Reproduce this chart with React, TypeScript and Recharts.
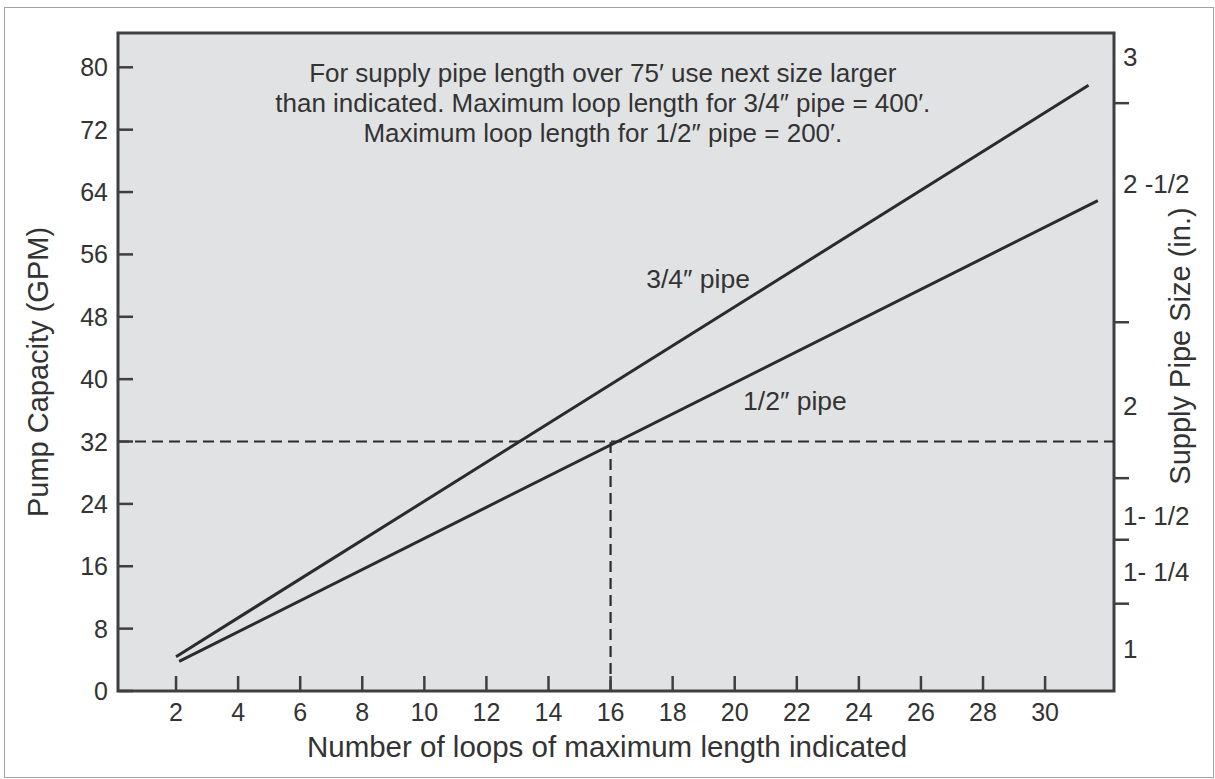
import React from 'react';
import {
  ComposedChart,
  Line,
  XAxis,
  YAxis,
  ReferenceLine,
  ReferenceArea,
  ReferenceDot,
  Label,
} from 'recharts';

// ---------- data ----------
const loopTicks = [2, 4, 6, 8, 10, 12, 14, 16, 18, 20, 22, 24, 26, 28, 30];
const gpmTicks = [0, 8, 16, 24, 32, 40, 48, 56, 64, 72, 80];
const loopDomain = [0.13, 32.22];
const gpmDomain = [0, 84.4];

const pipeThreeQuarter = [
  { loops: 2.0, gpm: 4.4 },
  { loops: 31.4, gpm: 77.7 },
];
const pipeHalf = [
  { loops: 2.1, gpm: 3.8 },
  { loops: 31.7, gpm: 62.9 },
];

// supply pipe size scale (right axis) in GPM units
const sizeBoundaries = [11.2, 19.4, 27.3, 47.3, 75.4];
const sizeLabels = ['1', '1- 1/4', '1- 1/2', '2', '2 -1/2', '3'];
const sizeLabelPositions = [5.4, 15.2, 22.4, 36.5, 65.0, 81.3];

const exampleLoops = 16;
const exampleGpm = 32;

const noteLines = [
  'For supply pipe length over 75\u2032 use next size larger',
  'than indicated. Maximum loop length for 3/4\u2033 pipe = 400\u2032.',
  'Maximum loop length for 1/2\u2033 pipe = 200\u2032.',
];
const noteLoops = 15.75;
const noteGpm = [79.3, 75.4, 71.6];

const seriesLabels = [
  { text: '3/4\u2033 pipe', loops: 18.82, gpm: 52.9 },
  { text: '1/2\u2033 pipe', loops: 21.94, gpm: 37.3 },
];

// ---------- style / layout ----------
const W = 1215;
const H = 779;
const FONT = '"Liberation Sans", Arial, Helvetica, sans-serif';
const INK = '#333333';
const LINE = '#2b2b2b';
const AXIS = '#3f3f3f';
const PLOT_L = 118;
const PLOT_R = 1114;
const PLOT_B = 691;
const TICK_FS = 25;
const TITLE_FS = 29;

const LeftTick = (p: any) => {
  const y = p.y;
  return (
    <g>
      <line x1={PLOT_L} x2={PLOT_L + 15} y1={y} y2={y} stroke={AXIS} strokeWidth={2.5} />
      <text x={PLOT_L - 10} y={y + 9} textAnchor="end" fontSize={TICK_FS} fontFamily={FONT} fill={INK}>
        {p.payload.value}
      </text>
    </g>
  );
};

const BottomTick = (p: any) => {
  const x = p.x;
  return (
    <g>
      <line x1={x} x2={x} y1={PLOT_B} y2={PLOT_B - 15} stroke={AXIS} strokeWidth={2.5} />
      <text x={x} y={721} textAnchor="middle" fontSize={TICK_FS} fontFamily={FONT} fill={INK}>
        {p.payload.value}
      </text>
    </g>
  );
};

const RightTick = (p: any) => {
  const y = p.y;
  const v = p.payload.value;
  const li = sizeLabelPositions.indexOf(v);
  if (li >= 0) {
    return (
      <text x={PLOT_R + 9} y={y + 9} textAnchor="start" fontSize={26} fontFamily={FONT} fill={INK}>
        {sizeLabels[li]}
      </text>
    );
  }
  return <line x1={PLOT_R} x2={PLOT_R + 15} y1={y} y2={y} stroke={AXIS} strokeWidth={2.5} />;
};

const rightTicks = [...sizeBoundaries, ...sizeLabelPositions].sort((a, b) => a - b);

export default function App() {
  return (
    <div style={{ position: 'absolute', left: 0, top: 0, width: W, height: H, background: '#ffffff' }}>
      <div
        style={{
          position: 'absolute',
          left: 4,
          top: 7,
          width: 1208,
          height: 769,
          border: '1.5px solid #a3a3a3',
        }}
      />
      <div style={{ position: 'absolute', left: 0, top: 0 }}>
        <ComposedChart
          width={W}
          height={H}
          margin={{ top: 33, right: 11, bottom: 18, left: 18 }}
        >
          <XAxis
            xAxisId="x"
            type="number"
            dataKey="loops"
            domain={loopDomain}
            ticks={loopTicks}
            interval={0}
            allowDataOverflow
            axisLine={false}
            tickLine={false}
            tick={<BottomTick />}
            height={70}
          >
            <Label
              content={() => (
                <text x={607} y={757} textAnchor="middle" fontSize={29.5} fontFamily={FONT} fill={INK}>
                  Number of loops of maximum length indicated
                </text>
              )}
            />
          </XAxis>
          <YAxis
            yAxisId="left"
            type="number"
            domain={gpmDomain}
            ticks={gpmTicks}
            interval={0}
            allowDataOverflow
            axisLine={false}
            tickLine={false}
            tick={<LeftTick />}
            width={100}
          >
            <Label
              content={() => (
                <text
                  x={38}
                  y={372}
                  transform="rotate(-90 38 372)"
                  textAnchor="middle"
                  dominantBaseline="central"
                  fontSize={TITLE_FS}
                  fontFamily={FONT}
                  fill={INK}
                >
                  Pump Capacity (GPM)
                </text>
              )}
            />
          </YAxis>
          <YAxis
            yAxisId="right"
            orientation="right"
            type="number"
            domain={gpmDomain}
            ticks={rightTicks}
            interval={0}
            allowDataOverflow
            axisLine={false}
            tickLine={false}
            tick={<RightTick />}
            width={90}
          >
            <Label
              content={() => (
                <text
                  x={1180}
                  y={346}
                  transform="rotate(-90 1180 346)"
                  textAnchor="middle"
                  dominantBaseline="central"
                  fontSize={TITLE_FS}
                  fontFamily={FONT}
                  fill={INK}
                >
                  Supply Pipe Size (in.)
                </text>
              )}
            />
          </YAxis>

          <ReferenceArea
            xAxisId="x"
            yAxisId="left"
            x1={loopDomain[0]}
            x2={loopDomain[1]}
            y1={gpmDomain[0]}
            y2={gpmDomain[1]}
            fill="#e1e2e4"
            fillOpacity={1}
            stroke={AXIS}
            strokeWidth={3}
          />

          <ReferenceLine
            xAxisId="x"
            yAxisId="left"
            y={exampleGpm}
            stroke={LINE}
            strokeWidth={2.2}
            strokeDasharray="11 6"
          />
          <ReferenceLine
            xAxisId="x"
            yAxisId="left"
            segment={[
              { x: exampleLoops, y: gpmDomain[0] },
              { x: exampleLoops, y: exampleGpm },
            ]}
            stroke={LINE}
            strokeWidth={2.2}
            strokeDasharray="11 6"
          />

          <Line
            xAxisId="x"
            yAxisId="left"
            data={pipeThreeQuarter}
            dataKey="gpm"
            type="linear"
            stroke={LINE}
            strokeWidth={3}
            dot={false}
            activeDot={false}
            isAnimationActive={false}
          />
          <Line
            xAxisId="x"
            yAxisId="left"
            data={pipeHalf}
            dataKey="gpm"
            type="linear"
            stroke={LINE}
            strokeWidth={3}
            dot={false}
            activeDot={false}
            isAnimationActive={false}
          />

          {noteLines.map((t, i) => (
            <ReferenceDot
              key={'n' + i}
              xAxisId="x"
              yAxisId="left"
              x={noteLoops}
              y={noteGpm[i]}
              r={0}
              fill="none"
              stroke="none"
              label={{
                value: t,
                position: 'center',
                fontSize: 26,
                fontFamily: FONT,
                fill: INK,
              }}
            />
          ))}
          {seriesLabels.map((s, i) => (
            <ReferenceDot
              key={'s' + i}
              xAxisId="x"
              yAxisId="left"
              x={s.loops}
              y={s.gpm}
              r={0}
              fill="none"
              stroke="none"
              label={{
                value: s.text,
                position: 'center',
                fontSize: 26.5,
                fontFamily: FONT,
                fill: INK,
              }}
            />
          ))}
        </ComposedChart>
      </div>
    </div>
  );
}
